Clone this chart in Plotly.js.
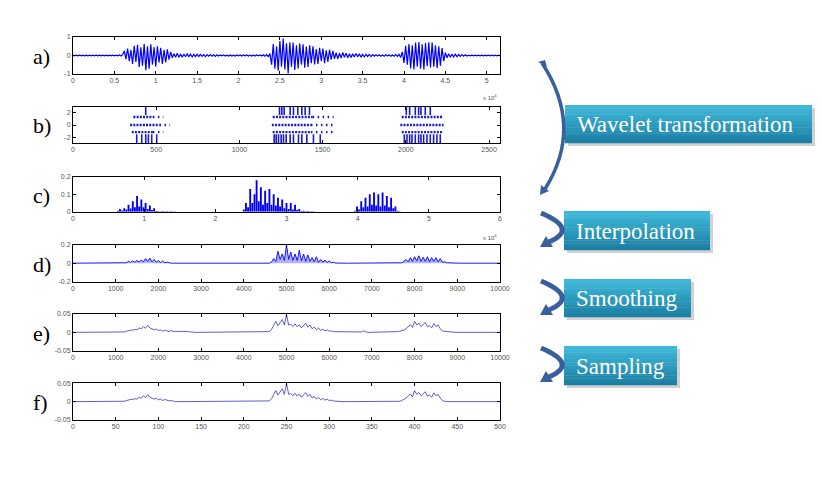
<!DOCTYPE html>
<html>
<head>
<meta charset="utf-8">
<script src="https://cdn.plot.ly/plotly-3.0.1.min.js"></script>
<style>html,body{margin:0;padding:0;background:#fff;}#chart{width:822px;height:487px;}</style>
</head>
<body>
<div id="chart"></div>
<script>
// ---------------- DATA ----------------
// a) raw signal, x in units of 10^4 samples, sampled every 0.02
const aStep = 0.02;
const aVals = [
0.02,-0.02,0.02,-0.02,0.02,-0.02,0.02,-0.02,0.02,-0.02,0.02,-0.02,0.02,-0.02,0.02,-0.02,0.02,-0.02,0.02,-0.02,0.02,-0.02,0.02,-0.02,0.02,-0.02,0.02,-0.02,0.03,-0.03,0.05,
0.25,-0.2,0.38,-0.3,0.3,-0.45,0.52,-0.35,0.58,-0.62,0.45,-0.55,0.63,-0.8,0.5,-0.72,0.6,-0.5,0.45,-0.6,0.5,-0.38,0.42,-0.45,0.3,-0.38,0.33,-0.22,0.2,
-0.12,0.1,-0.1,0.12,-0.09,0.08,-0.1,0.08,-0.07,0.09,-0.06,0.07,-0.08,0.06,-0.06,0.07,-0.05,0.06,-0.05,0.05,-0.06,0.05,-0.04,0.05,-0.04,0.04,-0.05,0.04,
-0.03,0.03,-0.02,0.03,-0.03,0.02,-0.03,0.03,-0.03,0.02,-0.03,0.03,-0.02,0.03,-0.03,0.03,-0.02,0.03,-0.03,0.02,-0.03,0.03,-0.03,0.03,-0.02,0.03,-0.03,0.04,-0.04,0.05,-0.06,0.1,
-0.5,0.62,-0.72,0.5,-0.82,0.78,-0.6,0.92,-0.75,0.66,-0.97,0.72,-0.6,0.7,-0.78,0.55,-0.7,0.64,-0.5,0.6,-0.66,0.48,-0.62,0.55,-0.42,0.5,-0.48,0.35,-0.45,0.42,-0.3,0.38,-0.42,0.28,-0.34,0.3,-0.22,0.25,-0.18,
0.15,-0.18,0.12,-0.14,0.16,-0.1,0.13,-0.12,0.09,-0.11,0.1,-0.08,0.11,-0.07,0.09,-0.09,0.06,-0.08,0.07,-0.05,0.06,-0.06,0.05,
-0.04,0.04,-0.03,0.04,-0.04,0.03,-0.04,0.04,-0.03,0.04,-0.04,0.03,-0.04,0.05,-0.05,0.06,-0.1,0.2,
-0.4,0.52,-0.5,0.62,-0.7,0.55,-0.76,0.7,-0.6,0.73,-0.72,0.6,-0.75,0.68,-0.58,0.72,-0.65,0.7,-0.6,0.55,-0.68,0.5,-0.55,0.4,-0.3,
0.15,-0.12,0.1,-0.1,0.08,-0.08,0.07,-0.06,0.06,-0.05,0.05,-0.04,0.04,-0.03,
0.02,-0.02,0.02,-0.02,0.02,-0.02,0.02,-0.02,0.02,-0.02,0.02,-0.02,0.02,-0.02,0.02,-0.02,0.02,-0.02,0.02,-0.02];
const aXTicks = [0,0.5,1,1.5,2,2.5,3,3.5,4,4.5,5];
const aXLabels = ['0','0.5','1','1.5','2','2.5','3','3.5','4','4.5','5'];
const aYTicks = [-1,0,1];
const aYLabels = ['-1','0','1'];

// b) wavelet coefficients: bar marks at the outer levels, dotted runs at inner levels
const bTopLevel = 2.4;
const bTopX = [437,1241,1255,1269,1305,1325,1351,1375,1395,1421,2003,2023,2057,2077,2091,2117,2147];
const bBotLevel = -2.4;
const bBotX = [383,413,437,453,473,503,1209,1221,1235,1251,1265,1281,1305,1325,1355,1375,1405,1445,1486,
1991,2007,2023,2037,2057,2077,2091,2107,2127,2147,2167,2187,2207];
const bSegLevel = [1.3,1.3,1.3,1.3,1.3, 0,0,0,0,0, -1.15,-1.15,-1.15,-1.15,-1.15];
const bSegX0    = [363,480,1200,1440,1975, 343,520,1195,1430,1967, 353,480,1200,1430,1975];
const bSegX1    = [480,543,1440,1566,2225, 520,583,1430,1566,2227, 480,543,1430,1560,2225];
const bSegDense = [1,0,1,0,1, 1,0,1,0,1, 1,0,1,0,1];
const bXTicks = [0,500,1000,1500,2000,2500];
const bXLabels = ['0','500','1000','1500','2000','2500'];
const bYTicks = [-2,0,2];
const bYLabels = ['-2','0','2'];

// c) reconstructed magnitude, x in units of 10^4, sampled every 0.03
const cStep = 0.03;
const cVals = [0,0,0,0,0,0,0,0,0,0,0,0,0,0,0,0,0,0,0,0,0,
0.005,0.015,0.007,0.02,0.012,0.04,0.018,0.06,0.025,0.09,0.03,0.07,0.025,0.05,0.015,0.035,0.01,0.02,0.004,
0.003,0.001,0.004,0.001,0.002,0.001,0.002,0.001,0.001,0,0,
0,0,0,0,0,0,0,0,0,0,0,0,0,0,0,0,0,0,0,0,0,0,0,0,0,0,0,0,0,
0.012,0.05,0.025,0.13,0.05,0.1,0.18,0.06,0.14,0.04,0.12,0.05,0.13,0.04,0.1,0.035,0.08,0.03,0.07,0.02,
0.05,0.015,0.05,0.012,0.04,0.01,0.015,0.004,0.006,0.002,0.004,0.001,0.003,0.001,
0,0,0,0,0,0,0,0,0,0,0,0,0,0,0,0,0,0,
0.005,0.03,0.012,0.06,0.025,0.08,0.03,0.1,0.04,0.11,0.035,0.1,0.03,0.11,0.035,0.09,0.025,0.08,0.02,0.03,0.006,0.002,
0,0,0,0,0,0,0,0,0,0,0,0,0,0,0,0,0,0,0,0,0,0,0,0,0,0,0,0,0,0,0,0,0,0,0,0,0,0,0,0,0,0,0,0,0,0,0];
const cXTicks = [0,1,2,3,4,5,6];
const cXLabels = ['0','1','2','3','4','5','6'];
const cYTicks = [0,0.1,0.2];
const cYLabels = ['0','0.1','0.2'];

// d) interpolated, sampled every 50
const dStep = 50;
const dVals = [0,0,0,0,0,0,0,0,0,0,0,0,0,0,0,0,0,0,0,0,0,0,0,0,0,
0.005,0.02,0.008,0.025,0.01,0.03,0.012,0.035,0.015,0.05,0.02,0.055,0.015,0.04,0.01,0.03,0.005,0.025,0.004,0.012,0.002,
0,0,0,0,0,0,0,0,0,0,0,0,0,0,0,0,0,0,0,0,0,0,0,0,0,0,0,0,0,0,0,0,0,0,0,0,0,0,0,0,0,0,0,0,0,0,0,
0.015,0.05,0.02,0.13,0.04,0.1,0.03,0.2,0.04,0.12,0.03,0.1,0.03,0.14,0.025,0.1,0.02,0.09,0.02,0.06,0.015,
0.07,0.01,0.04,0.01,0.035,0.008,0.025,0.005,0.01,0.002,
0,0,0,0,0,0,0,0,0,0,0,0,0,0,0,0,0,0,0,0,0,0,0,0,0,0,0,0,0,0,
0.005,0.02,0.04,0.015,0.06,0.02,0.07,0.025,0.08,0.02,0.065,0.02,0.07,0.015,0.06,0.02,0.06,0.015,0.05,0.01,0.015,0.005,0.003,
0,0,0,0,0,0,0,0,0,0,0,0,0,0,0,0,0,0,0,0,0,0,0,0];
const dXTicks = [0,1000,2000,3000,4000,5000,6000,7000,8000,9000,10000];
const dXLabels = ['0','1000','2000','3000','4000','5000','6000','7000','8000','9000','10000'];
const dYTicks = [-0.2,0,0.2];
const dYLabels = ['-0.2','0','0.2'];

// e) smoothed, sampled every 50
const eStep = 50;
const eVals = [0,0,0,0,0,0,0,0,0,0,0,0,0,0,0,0,0,0,0,0,0,0,0,0,
0.001,0.003,0.005,0.006,0.006,0.008,0.007,0.012,0.009,0.016,0.011,0.019,0.012,0.01,0.007,0.009,0.005,0.007,0.003,0.006,
0.004,0.002,0.005,0.002,0.003,0.002,0.003,0.002,0.003,0.002,0.001,
0,0,0,0,0,0,0,0,0,0,0,0,0,0,0,0,0,0,0,0,0,0,0,0,0,0,0,0,0,0,0,0,0,0,0,0,0,
0.002,0.008,0.02,0.03,0.018,0.028,0.035,0.02,0.048,0.02,0.022,0.016,0.023,0.015,0.021,0.012,0.02,0.025,0.014,0.02,
0.01,0.014,0.007,0.012,0.005,0.009,0.004,0.007,0.003,0.004,0.002,
0.002,0.003,0.002,0.002,0.003,0.002,0.002,0.002,0.003,0.002,0.002,0.003,0.001,0.004,0.001,
0,0,0,0,0,0,0,0,0,0,0,0,
0.001,0.002,0.002,0.003,0.004,0.006,0.01,0.015,0.021,0.013,0.03,0.02,0.025,0.016,0.021,0.027,0.015,0.018,0.012,0.024,
0.016,0.02,0.01,0.004,0.003,0.002,0.001,
0,0,0,0,0,0,0,0,0,0,0,0,0,0,0,0,0,0,0,0,0,0,0,0];
const eXTicks = dXTicks;
const eXLabels = dXLabels;
const eYTicks = [-0.05,0,0.05];
const eYLabels = ['-0.05','0','0.05'];

// f) sampled, every 2.5
const fStep = 2.5;
const fVals = [0,0,0,0,0,0,0,0,0,0,0,0,0,0,0,0,0,0,0,0,0,0,0,0,
0.001,0.003,0.005,0.006,0.006,0.008,0.007,0.012,0.009,0.016,0.011,0.019,0.012,0.01,0.007,0.009,0.005,0.007,0.003,0.006,
0.004,0.002,0.003,0.001,0,0,0,0,0,0,0,
0,0,0,0,0,0,0,0,0,0,0,0,0,0,0,0,0,0,0,0,0,0,0,0,0,0,0,0,0,0,0,0,0,0,0,0,0,
0.002,0.008,0.02,0.03,0.018,0.028,0.035,0.02,0.049,0.02,0.022,0.016,0.023,0.015,0.021,0.012,0.02,0.025,0.014,0.02,
0.01,0.014,0.007,0.012,0.005,0.009,0.004,0.007,0.003,0.004,0.002,
0.001,0,0,0,0,0,0,0,0,0,0,0,0,0,0,
0,0,0,0,0,0,0,0,0,0,0,0,
0,0,0,0.001,0.003,0.006,0.01,0.015,0.021,0.013,0.03,0.02,0.025,0.016,0.021,0.027,0.015,0.018,0.012,0.024,
0.016,0.02,0.01,0.003,0.001,0,0,
0,0,0,0,0,0,0,0,0,0,0,0,0,0,0,0,0,0,0,0,0,0,0,0];
const fXTicks = [0,50,100,150,200,250,300,350,400,450,500];
const fXLabels = ['0','50','100','150','200','250','300','350','400','450','500'];
const fYTicks = [-0.05,0,0.05];
const fYLabels = ['-0.05','0','0.05'];

const panelLabels = ['a)','b)','c)','d)','e)','f)'];
const stepLabels = ['Wavelet transformation','Interpolation','Smoothing','Sampling'];

// ---------------- LAYOUT HELPERS ----------------
const W = 822, H = 487;
const PX = x => x / W;
const PY = y => 1 - y / H;
const plotL = 73, plotR = 500;
const pTop = [37, 107, 176.7, 244.7, 314, 383.3];
const pBot = [74, 143, 211.7, 281.7, 350.7, 420];
const xRanges = [[0,5.16],[0,2566],[0,6],[0,10000],[0,10000],[0,500]];
const yRanges = [[-1,1],[-2.9,2.9],[0,0.2],[-0.2,0.2],[-0.05,0.05],[-0.05,0.05]];
const xT = [[aXTicks,aXLabels],[bXTicks,bXLabels],[cXTicks,cXLabels],[dXTicks,dXLabels],[eXTicks,eXLabels],[fXTicks,fXLabels]];
const yT = [[aYTicks,aYLabels],[bYTicks,bYLabels],[cYTicks,cYLabels],[dYTicks,dYLabels],[eYTicks,eYLabels],[fYTicks,fYLabels]];
const serif = 'Liberation Serif';

const tickFont = {family:'Liberation Sans', size:7, color:'#555'};
function axisBase(){
  return {showline:true, mirror:'ticks', linecolor:'#000', linewidth:1, ticks:'inside', ticklen:3,
          tickcolor:'#000', tickwidth:1, tickfont:tickFont, showgrid:false, zeroline:false, fixedrange:true};
}

const layout = {width:W, height:H, margin:{l:0,r:0,t:0,b:0}, paper_bgcolor:'#fff', plot_bgcolor:'#fff',
  showlegend:false, shapes:[], annotations:[], bargap:0.12};

for (let k = 0; k < 6; k++) {
  const sx = k === 0 ? '' : String(k+1);
  const xa = axisBase();
  xa.domain = [PX(plotL), PX(plotR)];
  xa.range = xRanges[k];
  xa.tickvals = xT[k][0]; xa.ticktext = xT[k][1];
  xa.anchor = 'y' + sx;
  const ya = axisBase();
  ya.domain = [PY(pBot[k]), PY(pTop[k])];
  ya.range = yRanges[k];
  ya.tickvals = yT[k][0]; ya.ticktext = yT[k][1];
  ya.anchor = 'x' + sx;
  layout['xaxis' + sx] = xa;
  layout['yaxis' + sx] = ya;
  layout.annotations.push({xref:'paper', yref:'paper', x:PX(31), y:PY((pTop[k]+pBot[k])/2 + 1),
    xanchor:'left', yanchor:'middle', showarrow:false, text:panelLabels[k],
    font:{family:serif, size:22, color:'#000'}});
}

// x 10^4 multipliers for a) and c)
[97, 237].forEach(yy => {
  layout.annotations.push({xref:'paper', yref:'paper', x:PX(499), y:PY(yy), xanchor:'right', yanchor:'middle',
    showarrow:false, text:'x 10<sup>4</sup>', font:{family:'Liberation Sans', size:6, color:'#555'}});
});

// ---------------- TRACES ----------------
const idx = (arr, step) => arr.map((_, i) => i * step);
const traces = [];
traces.push({x: idx(aVals, aStep), y: aVals, xaxis:'x', yaxis:'y', mode:'lines', line:{color:'#0000ff', width:1.2}, hoverinfo:'skip'});

// b)
for (let s = 0; s < bSegLevel.length; s++) {
  traces.push({x:[bSegX0[s], bSegX1[s]], y:[bSegLevel[s], bSegLevel[s]], xaxis:'x2', yaxis:'y2', mode:'lines',
    line:{color:'#1a1acc', width:2.4, dash: bSegDense[s] ? '2px,1.2px' : '1.5px,3.5px'}, hoverinfo:'skip'});
}
traces.push({x:bTopX, y:bTopX.map(() => bTopLevel), xaxis:'x2', yaxis:'y2', mode:'markers',
  marker:{symbol:'line-ns-open', size:7, color:'#1a1acc', line:{color:'#1a1acc', width:1.6}}, hoverinfo:'skip'});
traces.push({x:bBotX, y:bBotX.map(() => bBotLevel), xaxis:'x2', yaxis:'y2', mode:'markers',
  marker:{symbol:'line-ns-open', size:8, color:'#1a1acc', line:{color:'#1a1acc', width:1.6}}, hoverinfo:'skip'});

traces.push({type:'bar', x: idx(cVals, cStep), y: cVals, xaxis:'x3', yaxis:'y3',
  marker:{color:'#0000ee', line:{width:0}}, hoverinfo:'skip'});
traces.push({x: idx(dVals, dStep), y: dVals, xaxis:'x4', yaxis:'y4', mode:'lines', fill:'tozeroy',
  fillcolor:'rgba(0,0,230,0.3)', line:{color:'#0000ff', width:0.9}, hoverinfo:'skip'});
traces.push({x: idx(eVals, eStep), y: eVals, xaxis:'x5', yaxis:'y5', mode:'lines', line:{color:'#3535c8', width:0.8}, hoverinfo:'skip'});
traces.push({x: idx(fVals, fStep), y: fVals, xaxis:'x6', yaxis:'y6', mode:'lines', line:{color:'#3535c8', width:0.8}, hoverinfo:'skip'});

// ---------------- RIGHT-HAND DIAGRAM ----------------
const P = (x, y) => PX(x).toFixed(5) + ',' + PY(y).toFixed(5);
const arrowCol = '#37609c';
function addBox(l, t, r, b, label, textY) {
  layout.shapes.push({type:'rect', xref:'paper', yref:'paper', x0:PX(l+3), x1:PX(r+3), y0:PY(b+3), y1:PY(t+3),
    line:{width:0}, fillcolor:'rgba(0,0,0,0.18)', layer:'above'});
  const n = 12;
  const c0 = [62,184,218], c1 = [28,128,164];
  for (let i = 0; i < n; i++) {
    const f = i / (n - 1);
    const col = 'rgb(' + c0.map((v, j) => Math.round(v + (c1[j] - v) * f)).join(',') + ')';
    const yt = t + (b - t) * i / n, yb = t + (b - t) * (i + 1) / n;
    layout.shapes.push({type:'rect', xref:'paper', yref:'paper', x0:PX(l), x1:PX(r), y0:PY(yb + 0.3), y1:PY(yt),
      line:{width:0}, fillcolor:col, layer:'above'});
  }
  layout.annotations.push({xref:'paper', yref:'paper', x:PX(l + 10), y:PY(textY), xanchor:'left', yanchor:'middle',
    showarrow:false, text:label, font:{family:serif, size:23, color:'#fff'}});
}
addBox(565, 105, 812, 143, stepLabels[0], 125);
addBox(564, 211, 710, 250, stepLabels[1], 231);
addBox(564, 279, 691, 317, stepLabels[2], 298);
addBox(564, 346, 677, 385, stepLabels[3], 366);

// big bracket arrow
layout.shapes.push({type:'path', xref:'paper', yref:'paper', path:'M' + P(542,63) + ' Q' + P(584,127) + ' ' + P(545,189),
  line:{color:arrowCol, width:3.5}, layer:'above'});
layout.shapes.push({type:'path', xref:'paper', yref:'paper', path:'M' + P(538,62) + ' L' + P(545,60) + ' L' + P(547,67) + ' Z',
  line:{width:0}, fillcolor:arrowCol, layer:'above'});
layout.shapes.push({type:'path', xref:'paper', yref:'paper', path:'M' + P(540,195) + ' L' + P(549,191) + ' L' + P(541,185) + ' Z',
  line:{width:0}, fillcolor:arrowCol, layer:'above'});

// small curved arrows
[211, 279, 346].forEach(t => {
  layout.shapes.push({type:'path', xref:'paper', yref:'paper',
    path:'M' + P(541,t+2) + ' Q' + P(579,t+18) + ' ' + P(549,t+31), line:{color:arrowCol, width:5}, layer:'above'});
  layout.shapes.push({type:'path', xref:'paper', yref:'paper',
    path:'M' + P(540,t+36) + ' L' + P(553,t+36) + ' L' + P(546,t+25) + ' Z', line:{width:0}, fillcolor:arrowCol, layer:'above'});
});

Plotly.newPlot('chart', traces, layout, {displayModeBar:false, staticPlot:true});
</script>
</body>
</html>
